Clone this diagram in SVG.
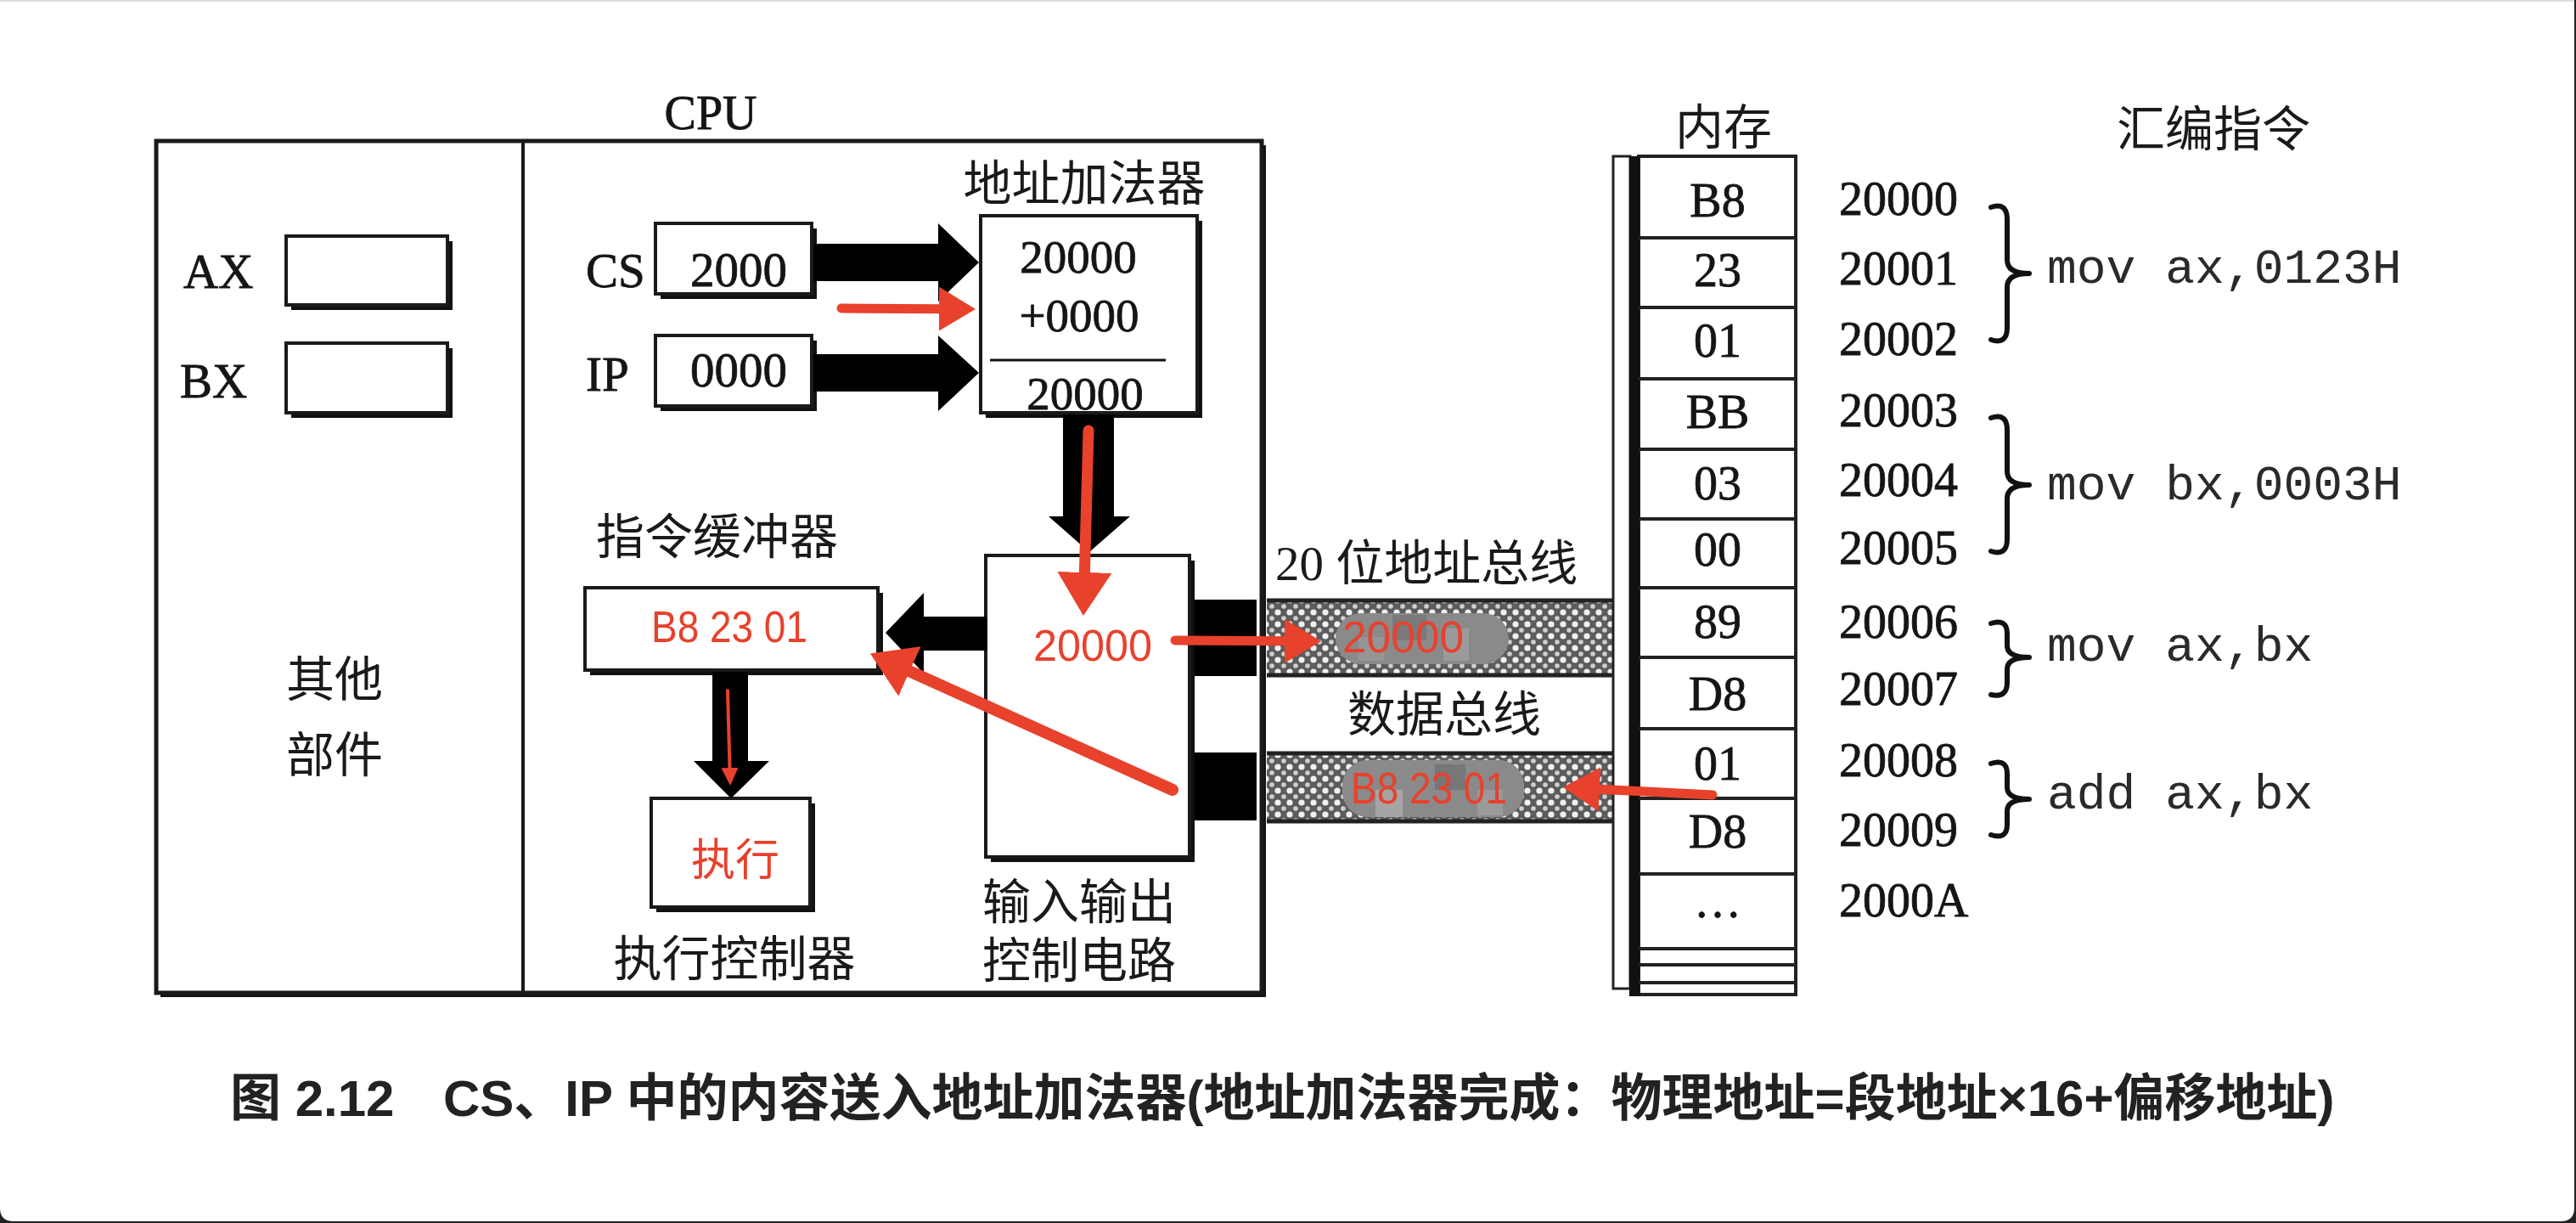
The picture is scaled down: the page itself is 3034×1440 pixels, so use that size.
<svg xmlns="http://www.w3.org/2000/svg" width="3034" height="1440" viewBox="0 0 3034 1440">
<style>
.bk{font-family:'Liberation Serif','Noto Sans CJK SC',serif;fill:#151515;stroke:#151515;stroke-width:0.8}
.cj{font-family:'Liberation Serif','Noto Sans CJK SC',sans-serif;fill:#1a1a1a;font-size:57px}
.rd{font-family:'Liberation Sans','Noto Sans CJK SC',sans-serif;fill:#E8412C;font-size:52px}
.mono{font-family:'Liberation Mono',monospace;fill:#2a2a2a;font-size:58px}
.box{fill:#fff;stroke:#1a1a1a;stroke-width:4}
.sh{fill:#111}
.thick{fill:#000}
.ra{fill:none;stroke:#E8412C;stroke-linecap:round}
.brace{fill:none;stroke:#111;stroke-width:6;stroke-linecap:round;stroke-linejoin:round}
.mline{stroke:#222;stroke-width:4}
.bus{fill:url(#hatch);stroke:none}
.busline{stroke:#222;stroke-width:5}
</style>
<defs>
<pattern id="hatch" width="14" height="14" patternUnits="userSpaceOnUse">
<rect width="14" height="14" fill="#5c5c5c"/>
<circle cx="7" cy="7" r="3.6" fill="#f0f0f0"/>
<circle cx="0" cy="0" r="2.8" fill="#d0d0d0"/>
<circle cx="14" cy="0" r="2.8" fill="#d0d0d0"/>
<circle cx="0" cy="14" r="2.8" fill="#d0d0d0"/>
<circle cx="14" cy="14" r="2.8" fill="#d0d0d0"/>
</pattern>
<marker id="hM" markerUnits="userSpaceOnUse" markerWidth="44" markerHeight="52" refX="0" refY="26" orient="auto" viewBox="0 0 44 52">
<path d="M0,0 L43,26 L0,52 Z" fill="#E8412C"/>
</marker>
<marker id="hL" markerUnits="userSpaceOnUse" markerWidth="52" markerHeight="64" refX="0" refY="32" orient="auto" viewBox="0 0 52 64">
<path d="M0,0 L51,32 L0,64 Z" fill="#E8412C"/>
</marker>
<marker id="hS" markerUnits="userSpaceOnUse" markerWidth="22" markerHeight="20" refX="0" refY="10" orient="auto" viewBox="0 0 22 20">
<path d="M0,0 L21,10 L0,20 Z" fill="#E8412C"/>
</marker>
</defs>

<rect x="0" y="0" width="3034" height="1440" fill="#222"/>
<path d="M0,0 H3032 V1422 Q3032,1438 3016,1438 H16 Q0,1438 0,1422 Z" fill="#fff"/>
<rect x="0" y="0" width="3032" height="2" fill="#ddd"/>

<g id="cpu">
<rect class="sh" x="189" y="171" width="1302" height="1003"/>
<rect x="184" y="166" width="1302" height="1003" fill="#fff" stroke="#1a1a1a" stroke-width="5"/>
<line x1="616" y1="166" x2="616" y2="1169" stroke="#1a1a1a" stroke-width="4"/>
<text class="bk" x="837" y="152" font-size="56" text-anchor="middle">CPU</text>
</g>

<g id="other">
<text class="cj" x="394" y="820" text-anchor="middle">其他</text>
<text class="cj" x="394" y="909" text-anchor="middle">部件</text>
</g>

<g id="ax">
<text class="bk" x="216" y="339" font-size="57">AX</text>
<rect class="sh" x="343" y="284" width="190" height="81"/>
<rect class="box" x="337" y="278" width="190" height="81"/>
</g>
<g id="bx">
<text class="bk" x="212" y="468" font-size="57">BX</text>
<rect class="sh" x="343" y="410" width="190" height="82"/>
<rect class="box" x="337" y="404" width="190" height="82"/>
</g>

<g id="cs">
<text class="bk" x="690" y="338" font-size="57">CS</text>
<rect class="sh" x="778" y="269" width="184" height="83"/>
<rect class="box" x="772" y="263" width="184" height="83"/>
<text class="bk" x="870" y="337" font-size="57" text-anchor="middle">2000</text>
</g>
<g id="ip">
<text class="bk" x="690" y="460" font-size="57">IP</text>
<rect class="sh" x="778" y="401" width="184" height="83"/>
<rect class="box" x="772" y="395" width="184" height="83"/>
<text class="bk" x="870" y="455" font-size="57" text-anchor="middle">0000</text>
</g>

<g id="adder">
<text class="cj" x="1277" y="236" text-anchor="middle">地址加法器</text>
<rect class="sh" x="1161" y="260" width="255" height="232"/>
<rect class="box" x="1155" y="254" width="255" height="232"/>
<text class="bk" x="1270" y="321" font-size="55" text-anchor="middle">20000</text>
<text class="bk" x="1271" y="390" font-size="55" text-anchor="middle">+0000</text>
<line x1="1166" y1="424" x2="1373" y2="424" stroke="#111" stroke-width="3"/>
<text class="bk" x="1278" y="482" font-size="55" text-anchor="middle">20000</text>
</g>

<g id="buffer">
<text class="cj" x="702" y="652">指令缓冲器</text>
<rect class="sh" x="695" y="698" width="345" height="97"/>
<rect class="box" x="689" y="692" width="345" height="97"/>
<text class="rd" x="767" y="756" textLength="184" lengthAdjust="spacingAndGlyphs">B8 23 01</text>
</g>

<g id="exec">
<rect class="sh" x="773" y="946" width="187" height="128"/>
<rect class="box" x="767" y="940" width="187" height="128"/>
<text class="rd" x="866" y="1031" text-anchor="middle">执行</text>
<text class="cj" x="865" y="1149" text-anchor="middle">执行控制器</text>
</g>

<g id="io">
<rect class="thick" x="1400" y="706" width="80" height="90"/>
<rect class="thick" x="1400" y="886" width="80" height="80"/>
<rect class="sh" x="1167" y="660" width="240" height="355"/>
<rect class="box" x="1161" y="654" width="240" height="355"/>
<text class="rd" x="1217" y="778" textLength="140" lengthAdjust="spacingAndGlyphs">20000</text>
<text class="cj" x="1271" y="1082" text-anchor="middle">输入输出</text>
<text class="cj" x="1271" y="1151" text-anchor="middle">控制电路</text>
</g>

<g id="addrbus">
<text class="cj" x="1502" y="683">20 位地址总线</text>
<rect class="bus" x="1492" y="707" width="408" height="88"/>
<line class="busline" x1="1492" y1="707" x2="1900" y2="707"/>
<line class="busline" x1="1492" y1="795" x2="1900" y2="795"/>
<rect x="1573" y="722" width="204" height="60" rx="30" fill="#8a8a8a"/>
<rect x="1640" y="724" width="40" height="30" fill="#7a7a7a"/>
<rect x="1700" y="740" width="30" height="38" fill="#9a9a9a"/>
<rect x="1600" y="750" width="30" height="28" fill="#959595"/>
<text class="rd" x="1581" y="768" textLength="143" lengthAdjust="spacingAndGlyphs">20000</text>
</g>

<g id="databus">
<text class="cj" x="1701" y="861" text-anchor="middle">数据总线</text>
<rect class="bus" x="1492" y="887" width="408" height="80"/>
<line class="busline" x1="1492" y1="887" x2="1900" y2="887"/>
<line class="busline" x1="1492" y1="967" x2="1900" y2="967"/>
<rect x="1581" y="895" width="214" height="67" rx="30" fill="#8a8a8a"/>
<rect x="1620" y="930" width="32" height="32" fill="#a5a5a5"/>
<rect x="1690" y="900" width="36" height="30" fill="#777"/>
<rect x="1740" y="930" width="30" height="30" fill="#9a9a9a"/>
<text class="rd" x="1591" y="946" textLength="184" lengthAdjust="spacingAndGlyphs">B8 23 01</text>
</g>

<g id="memory">
<text class="cj" x="2030" y="170" text-anchor="middle">内存</text>
<rect x="1900" y="184" width="20" height="980" fill="#fff" stroke="#222" stroke-width="3"/>
<rect x="1930" y="184" width="185" height="987" fill="#fff" stroke="#222" stroke-width="4"/>
<rect x="1919" y="184" width="12" height="989" fill="#111"/>
<line class="mline" x1="1930" y1="280" x2="2115" y2="280"/>
<line class="mline" x1="1930" y1="362" x2="2115" y2="362"/>
<line class="mline" x1="1930" y1="446" x2="2115" y2="446"/>
<line class="mline" x1="1930" y1="529" x2="2115" y2="529"/>
<line class="mline" x1="1930" y1="611" x2="2115" y2="611"/>
<line class="mline" x1="1930" y1="692" x2="2115" y2="692"/>
<line class="mline" x1="1930" y1="774" x2="2115" y2="774"/>
<line class="mline" x1="1930" y1="858" x2="2115" y2="858"/>
<line class="mline" x1="1930" y1="940" x2="2115" y2="940"/>
<line class="mline" x1="1930" y1="1029" x2="2115" y2="1029"/>
<line class="mline" x1="1930" y1="1117" x2="2115" y2="1117"/>
<line class="mline" x1="1930" y1="1136" x2="2115" y2="1136"/>
<line class="mline" x1="1930" y1="1157" x2="2115" y2="1157"/>
<g class="bk" font-size="56" text-anchor="middle">
<text x="2023" y="255">B8</text>
<text x="2023" y="337">23</text>
<text x="2023" y="420">01</text>
<text x="2023" y="504">BB</text>
<text x="2023" y="588">03</text>
<text x="2023" y="666">00</text>
<text x="2023" y="751">89</text>
<text x="2023" y="836">D8</text>
<text x="2023" y="918">01</text>
<text x="2023" y="998">D8</text>
<text x="2023" y="1080">…</text>
</g>
<g class="bk" font-size="56">
<text x="2166" y="253">20000</text>
<text x="2166" y="335">20001</text>
<text x="2166" y="418">20002</text>
<text x="2166" y="502">20003</text>
<text x="2166" y="584">20004</text>
<text x="2166" y="664">20005</text>
<text x="2166" y="751">20006</text>
<text x="2166" y="830">20007</text>
<text x="2166" y="914">20008</text>
<text x="2166" y="996">20009</text>
<text x="2166" y="1079">2000A</text>
</g>
</g>

<g id="asm">
<text class="cj" x="2607" y="172" text-anchor="middle">汇编指令</text>
<path class="brace" d="M2345,244 Q2364,238 2364,258 L2364,306 Q2364,322 2390,322 Q2364,322 2364,338 L2364,386 Q2364,406 2345,400"/>
<path class="brace" d="M2345,492 Q2364,486 2364,506 L2364,555 Q2364,571 2390,571 Q2364,571 2364,587 L2364,635 Q2364,655 2345,649"/>
<path class="brace" d="M2345,734 Q2364,728 2364,746 L2364,760 Q2364,774 2390,774 Q2364,774 2364,788 L2364,804 Q2364,822 2345,818"/>
<path class="brace" d="M2345,899 Q2364,893 2364,911 L2364,927 Q2364,941 2390,941 Q2364,941 2364,955 L2364,971 Q2364,989 2345,983"/>
<text class="mono" x="2411" y="333">mov ax,0123H</text>
<text class="mono" x="2411" y="588">mov bx,0003H</text>
<text class="mono" x="2411" y="778">mov ax,bx</text>
<text class="mono" x="2411" y="952">add ax,bx</text>
</g>

<g id="connectors">
<polygon class="thick" points="958,287 1105,287 1105,263 1153,309 1105,355 1105,331 958,331"/>
<polygon class="thick" points="958,417 1105,417 1105,395 1153,439 1105,484 1105,461 958,461"/>
<polygon class="thick" points="1252,488 1312,488 1312,608 1331,608 1283,650 1235,608 1252,608"/>
<polygon class="thick" points="1163,726 1088,726 1088,698 1043,745 1088,793 1088,766 1163,766"/>
<polygon class="thick" points="839,791 881,791 881,896 906,896 861,940 817,896 839,896"/>
<path class="ra" stroke-width="11" d="M991,363 L1106,363.7" marker-end="url(#hM)"/>
<path class="ra" stroke-width="13" d="M1282,507 L1277.4,674" marker-end="url(#hL)"/>
<path class="ra" stroke-width="11" d="M1384,754 L1513,754.8" marker-end="url(#hM)"/>
<path class="ra" stroke-width="11" d="M2017,936 L1884,929.2" marker-end="url(#hM)"/>
<path class="ra" stroke-width="14" d="M1381,930 L1071.4,790.4" marker-end="url(#hL)"/>
<path class="ra" stroke-width="4" d="M857,813 L859.5,904" marker-end="url(#hS)"/>
</g>

<g id="caption" font-family="'Liberation Sans','Noto Sans CJK SC',sans-serif" font-weight="bold" font-size="60" fill="#222">
<text x="271" y="1314">图 2.12</text>
<text x="522" y="1314">CS、IP 中的内容送入地址加法器(地址加法器完成：物理地址=段地址×16+偏移地址)</text>
</g>
</svg>
